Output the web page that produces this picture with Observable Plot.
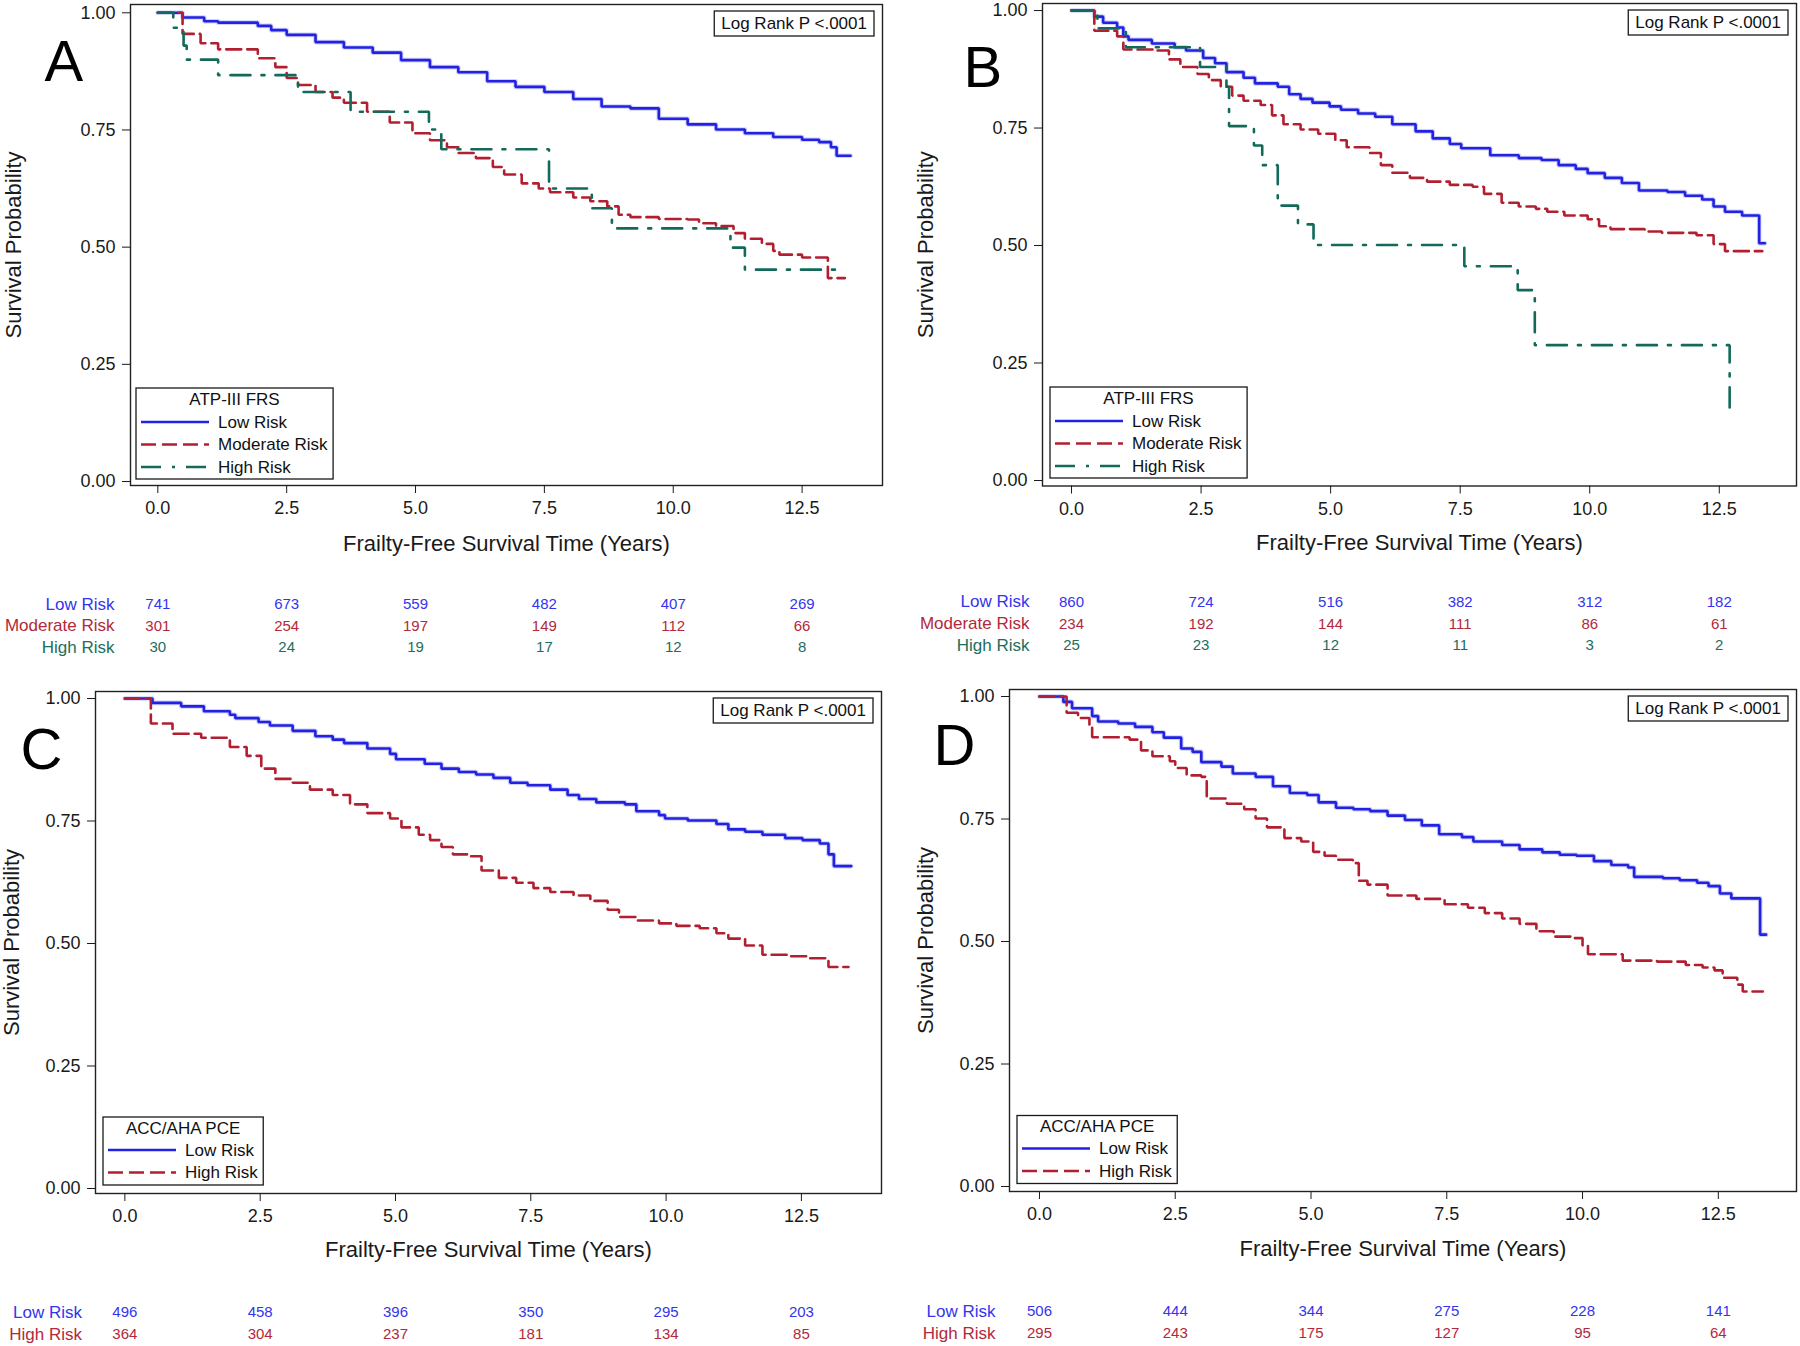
<!DOCTYPE html>
<html><head><meta charset="utf-8">
<script src="https://cdn.jsdelivr.net/npm/d3@7"></script>
<script src="https://cdn.jsdelivr.net/npm/@observablehq/plot@0.6"></script>
<style>
body{margin:0;background:#fff;}
#fig{position:relative;width:1800px;height:1346px;background:#fff;font-family:'Liberation Sans',Arial,sans-serif;}
.panel{position:absolute;}
</style></head><body><div id="fig"></div>
<script>
// ---------- data ----------
const xTicks = [0, 2.5, 5, 7.5, 10, 12.5];
const yTicks = [0, 0.25, 0.5, 0.75, 1];
const xLabel = "Frailty-Free Survival Time (Years)";
const yLabel = "Survival Probability";
const logRankText = "Log Rank P <.0001";
const legendTitleTop = "ATP-III FRS";
const legendTitleBottom = "ACC/AHA PCE";

// Kaplan–Meier steps [time (years), survival]
const A_low = [[0,1],[0.48,0.99],[0.9,0.982],[1.17,0.979],[1.94,0.972],[2.2,0.963],[2.5,0.953],[3.06,0.9375],[3.61,0.926],[4.17,0.915],[4.72,0.899],[5.28,0.884],[5.83,0.873],[6.39,0.854],[6.94,0.842],[7.5,0.831],[8.06,0.816],[8.61,0.80],[9.17,0.796],[9.72,0.774],[10.28,0.762],[10.83,0.751],[11.39,0.743],[11.94,0.735],[12.5,0.729],[12.83,0.724],[13.06,0.713],[13.17,0.695],[13.44,0.695]];
const A_mod = [[0,1],[0.48,0.955],[0.83,0.935],[1.17,0.922],[1.94,0.903],[2.28,0.884],[2.5,0.861],[2.72,0.846],[3.06,0.831],[3.39,0.819],[3.61,0.808],[4.06,0.789],[4.5,0.766],[4.94,0.743],[5.28,0.728],[5.61,0.713],[5.83,0.701],[6.17,0.690],[6.5,0.671],[6.72,0.655],[7.06,0.636],[7.39,0.625],[7.61,0.617],[8.06,0.606],[8.39,0.598],[8.72,0.587],[8.94,0.569],[9.17,0.564],[9.72,0.560],[10.28,0.559],[10.5,0.551],[10.83,0.545],[11.17,0.530],[11.39,0.518],[11.72,0.507],[11.94,0.492],[12.06,0.484],[12.5,0.478],[13.0,0.434],[13.33,0.434]];
const A_high = [[0,1],[0.3,0.968],[0.5,0.93],[0.56,0.90],[1.17,0.867],[2.72,0.831],[3.74,0.789],[5.26,0.751],[5.5,0.709],[7.59,0.625],[8.42,0.583],[8.81,0.540],[11.11,0.499],[11.39,0.452],[13.14,0.452]];

const B_low = [[0,1],[0.44,0.987],[0.61,0.974],[0.88,0.964],[1.0,0.945],[1.1,0.9375],[1.55,0.93],[1.99,0.922],[2.21,0.915],[2.54,0.899],[2.77,0.888],[2.99,0.869],[3.32,0.857],[3.54,0.845],[3.98,0.838],[4.2,0.822],[4.42,0.812],[4.65,0.804],[4.98,0.796],[5.2,0.789],[5.53,0.781],[5.86,0.774],[6.19,0.758],[6.64,0.743],[6.97,0.728],[7.3,0.716],[7.52,0.707],[8.08,0.692],[8.63,0.686],[9.07,0.682],[9.4,0.671],[9.73,0.663],[9.96,0.654],[10.29,0.644],[10.62,0.633],[10.95,0.617],[11.5,0.614],[11.84,0.606],[12.17,0.598],[12.39,0.583],[12.61,0.572],[12.94,0.564],[13.27,0.505],[13.38,0.505]];
const B_mod = [[0,1],[0.44,0.957],[0.88,0.945],[1.0,0.917],[1.66,0.915],[1.88,0.896],[2.1,0.880],[2.43,0.865],[2.65,0.852],[2.88,0.838],[3.1,0.819],[3.32,0.808],[3.65,0.799],[3.87,0.777],[4.09,0.758],[4.42,0.747],[4.76,0.738],[5.09,0.724],[5.31,0.709],[5.75,0.697],[5.97,0.671],[6.19,0.655],[6.53,0.644],[6.86,0.636],[7.3,0.629],[7.74,0.625],[7.96,0.610],[8.3,0.591],[8.63,0.583],[8.96,0.578],[9.18,0.572],[9.51,0.564],[9.96,0.556],[10.18,0.541],[10.4,0.535],[11.06,0.530],[11.39,0.527],[12.06,0.522],[12.39,0.503],[12.61,0.488],[13.33,0.488]];
const B_high = [[0,1],[0.5,0.962],[1.05,0.922],[2.48,0.880],[2.99,0.838],[3.04,0.754],[3.52,0.713],[3.68,0.671],[3.98,0.585],[4.37,0.545],[4.67,0.501],[7.58,0.456],[8.61,0.405],[8.94,0.288],[12.7,0.137]];

const C_low = [[0,1],[0.51,0.991],[1.04,0.984],[1.46,0.974],[1.94,0.967],[2.04,0.960],[2.47,0.952],[2.68,0.945],[3.1,0.934],[3.52,0.923],[3.84,0.916],[4.05,0.909],[4.48,0.898],[4.9,0.887],[5.01,0.876],[5.54,0.867],[5.85,0.857],[6.17,0.850],[6.49,0.845],[6.81,0.838],[7.12,0.828],[7.44,0.823],[7.86,0.814],[8.18,0.803],[8.39,0.795],[8.71,0.788],[9.24,0.784],[9.45,0.770],[9.87,0.762],[9.98,0.755],[10.4,0.751],[10.93,0.744],[11.15,0.733],[11.46,0.728],[11.78,0.722],[12.2,0.715],[12.52,0.711],[12.84,0.704],[13.0,0.682],[13.1,0.658],[13.42,0.658]];
const C_high = [[0,1],[0.48,0.949],[0.88,0.928],[1.41,0.920],[1.94,0.901],[2.25,0.883],[2.52,0.857],[2.78,0.836],[3.1,0.828],[3.42,0.814],[3.84,0.803],[4.16,0.784],[4.48,0.766],[4.9,0.755],[5.11,0.737],[5.43,0.722],[5.64,0.711],[5.85,0.697],[6.06,0.682],[6.38,0.678],[6.59,0.649],[6.91,0.634],[7.23,0.624],[7.55,0.613],[7.86,0.605],[8.29,0.598],[8.6,0.587],[8.92,0.569],[9.13,0.554],[9.45,0.547],[9.87,0.541],[10.19,0.536],[10.62,0.531],[10.93,0.521],[11.15,0.510],[11.46,0.496],[11.78,0.477],[12.31,0.474],[12.63,0.470],[13.0,0.452],[13.37,0.452]];

const D_low = [[0,1],[0.44,0.989],[0.6,0.976],[0.97,0.960],[1.08,0.949],[1.45,0.945],[1.76,0.938],[2.08,0.927],[2.29,0.916],[2.61,0.894],[2.82,0.887],[2.98,0.866],[3.35,0.857],[3.56,0.843],[3.98,0.836],[4.3,0.817],[4.61,0.803],[4.93,0.799],[5.14,0.784],[5.46,0.773],[5.78,0.770],[6.09,0.766],[6.41,0.757],[6.73,0.748],[7.04,0.737],[7.36,0.719],[7.78,0.713],[7.99,0.704],[8.52,0.697],[8.84,0.688],[9.26,0.682],[9.58,0.677],[9.89,0.675],[10.21,0.664],[10.53,0.656],[10.84,0.651],[10.95,0.632],[11.48,0.629],[11.79,0.625],[12.11,0.620],[12.32,0.613],[12.53,0.598],[12.74,0.588],[13.27,0.514],[13.38,0.514]];
const D_high = [[0,1],[0.5,0.967],[0.71,0.956],[0.92,0.942],[0.97,0.917],[1.66,0.912],[1.87,0.890],[2.08,0.878],[2.4,0.868],[2.5,0.854],[2.71,0.839],[2.98,0.836],[3.08,0.792],[3.45,0.781],[3.77,0.770],[3.98,0.751],[4.19,0.733],[4.51,0.711],[4.82,0.704],[5.04,0.683],[5.25,0.675],[5.46,0.667],[5.77,0.660],[5.88,0.624],[6.04,0.616],[6.41,0.594],[6.94,0.587],[7.46,0.576],[7.89,0.569],[8.2,0.558],[8.52,0.547],[8.84,0.536],[9.15,0.521],[9.47,0.510],[9.79,0.507],[10.0,0.492],[10.1,0.474],[10.74,0.461],[11.37,0.459],[11.9,0.452],[12.21,0.447],[12.43,0.441],[12.58,0.426],[12.85,0.412],[12.95,0.398],[13.32,0.398]];

// numbers at risk at 0, 2.5, 5, 7.5, 10, 12.5 years
const nA_low = [741, 673, 559, 482, 407, 269];
const nA_mod = [301, 254, 197, 149, 112, 66];
const nA_high = [30, 24, 19, 17, 12, 8];
const nB_low = [860, 724, 516, 382, 312, 182];
const nB_mod = [234, 192, 144, 111, 86, 61];
const nB_high = [25, 23, 12, 11, 3, 2];
const nC_low = [496, 458, 396, 350, 295, 203];
const nC_high = [364, 304, 237, 181, 134, 85];
const nD_low = [506, 444, 344, 275, 228, 141];
const nD_high = [295, 243, 175, 127, 95, 64];

// ---------- styles ----------
const FONT = "'Liberation Sans', Arial, sans-serif";
const STY = {
  blue: {stroke: "#2222e2", text: "#3434ee", dash: null},
  red: {stroke: "#b21f30", text: "#b3283a", dash: "15,6"},
  teal: {stroke: "#136a5a", text: "#1c6e5e", dash: "20,11,3,11"}
};

function makePanel(cfg) {
  const div = document.createElement("div");
  div.className = "panel";
  div.style.left = cfg.left + "px";
  div.style.top = cfg.top + "px";
  document.getElementById("fig").appendChild(div);

  const marks = [
    Plot.frame({stroke: "#222", strokeWidth: 1.4}),
    Plot.axisX({ticks: xTicks, tickFormat: d => d.toFixed(1), tickSize: 8, tickPadding: 8, fontSize: 18, label: null}),
    Plot.axisY({ticks: yTicks, tickFormat: d => d.toFixed(2), tickSize: 8, tickPadding: 7, fontSize: 18, label: null})
  ];
  cfg.series.forEach(s => {
    const st = STY[s.style];
    if (s.style === "blue") {
      marks.push(Plot.line(s.data, {x: d => d[0], y: d => d[1], curve: "step-after", stroke: "#a9a9f4", strokeWidth: 4.6, strokeOpacity: 0.55}));
    }
    marks.push(Plot.line(s.data, {x: d => d[0], y: d => d[1], curve: "step-after", stroke: st.stroke, strokeWidth: 2.6, strokeDasharray: st.dash, strokeLinejoin: "miter"}));
  });
  marks.push(
    Plot.text([xLabel], {text: d => d, frameAnchor: "bottom", lineAnchor: "middle", textAnchor: "middle", dy: cfg.xLabelDy, fontSize: 22, fill: "#1a1a1a"}),
    Plot.text([yLabel], {text: d => d, frameAnchor: "left", lineAnchor: "middle", textAnchor: "middle", dx: cfg.yLabelDx, rotate: -90, fontSize: 22, fill: "#1a1a1a"}),
    Plot.text([cfg.letter], {text: d => d, frameAnchor: "top-left", lineAnchor: "middle", textAnchor: "start", dx: cfg.letterDx, dy: cfg.letterDy, fontSize: 58, fill: "#000"})
  );
  cfg.series.forEach((s, i) => {
    const st = STY[s.style];
    marks.push(
      Plot.text([s.name], {text: d => d, frameAnchor: "bottom-left", lineAnchor: "middle", textAnchor: "end", dx: cfg.riskLabelDx, dy: cfg.riskDy[i], fontSize: 17, fill: st.text}),
      Plot.text(s.counts.map((n, j) => ({t: xTicks[j], n})), {x: "t", text: d => String(d.n), frameAnchor: "bottom", lineAnchor: "middle", textAnchor: "middle", dy: cfg.riskDy[i], fontSize: 15, fill: st.text})
    );
  });

  const svgEl = Plot.plot({
    width: cfg.width, height: cfg.height,
    marginLeft: cfg.mL, marginRight: cfg.mR, marginTop: cfg.mT, marginBottom: cfg.mB,
    x: {domain: cfg.xDomain, label: null},
    y: {domain: cfg.yDomain, label: null},
    style: {fontFamily: FONT, fontSize: "18px", color: "#1a1a1a", background: "transparent", overflow: "visible"},
    marks
  });
  div.appendChild(svgEl);

  const svg = d3.select(svgEl);
  const fl = cfg.mL, fr = cfg.width - cfg.mR, ft = cfg.mT, fb = cfg.height - cfg.mB;

  // Log-rank box
  const lr = svg.append("g").attr("font-family", FONT).attr("font-size", 17).attr("fill", "#111");
  const lrT = lr.append("text").attr("x", fr - 8 - 7).attr("y", ft + 7 + 12.5).attr("dy", "0.35em").attr("text-anchor", "end").text(logRankText);
  const bb = lrT.node().getBBox();
  lr.insert("rect", "text").attr("x", bb.x - 7).attr("y", ft + 7).attr("width", bb.width + 14).attr("height", 25)
    .attr("fill", "white").attr("stroke", "#1a1a1a").attr("stroke-width", 1.3);

  // Legend box
  const L = cfg.legend;
  const boxL = fl + L.dx, boxB = fb - L.db, boxT = boxB - L.h;
  const lg = svg.append("g").attr("font-family", FONT).attr("font-size", 17).attr("fill", "#111");
  let maxR = 0;
  cfg.series.forEach((s, i) => {
    const st = STY[s.style];
    const y = boxT + L.rows[i];
    lg.append("line").attr("x1", boxL + 5).attr("x2", boxL + 73).attr("y1", y).attr("y2", y)
      .attr("stroke", st.stroke).attr("stroke-width", 2.6).attr("stroke-dasharray", st.dash);
    const t = lg.append("text").attr("x", boxL + 82).attr("y", y).attr("dy", "0.35em").attr("text-anchor", "start").text(s.name);
    const b = t.node().getBBox();
    maxR = Math.max(maxR, b.x + b.width);
  });
  const boxW = maxR - boxL + 5;
  lg.append("text").attr("x", boxL + boxW / 2).attr("y", boxT + L.title).attr("dy", "0.35em").attr("text-anchor", "middle").text(cfg.legendTitle);
  lg.insert("rect", ":first-child").attr("x", boxL).attr("y", boxT).attr("width", boxW).attr("height", L.h)
    .attr("fill", "white").attr("stroke", "#1a1a1a").attr("stroke-width", 1.3);
}

const legend3 = (dx, db) => ({dx, db, h: 91, title: 11, rows: [34, 56.5, 79]});
const legend2 = (dx, db) => ({dx, db, h: 68, title: 11, rows: [33, 55.5]});

makePanel({
  left: 0, top: 0, width: 900, height: 670, mL: 130, mR: 18, mT: 4, mB: 185,
  xDomain: [-0.53, 14.06], yDomain: [-0.0085, 1.0177],
  letter: "A", letterDx: -86, letterDy: 58, xLabelDy: 58, yLabelDx: -117,
  riskDy: [119, 140.5, 162], riskLabelDx: -16,
  legendTitle: legendTitleTop, legend: legend3(6, 6),
  series: [
    {name: "Low Risk", style: "blue", data: A_low, counts: nA_low},
    {name: "Moderate Risk", style: "red", data: A_mod, counts: nA_mod},
    {name: "High Risk", style: "teal", data: A_high, counts: nA_high}
  ]
});
makePanel({
  left: 900, top: 0, width: 900, height: 670, mL: 142, mR: 4, mT: 3, mB: 184.5,
  xDomain: [-0.56, 13.99], yDomain: [-0.0117, 1.015],
  letter: "B", letterDx: -79, letterDy: 65, xLabelDy: 56.5, yLabelDx: -117,
  riskDy: [116, 138, 159.5], riskLabelDx: -13,
  legendTitle: legendTitleTop, legend: legend3(8, 7.5),
  series: [
    {name: "Low Risk", style: "blue", data: B_low, counts: nB_low},
    {name: "Moderate Risk", style: "red", data: B_mod, counts: nB_mod},
    {name: "High Risk", style: "teal", data: B_high, counts: nB_high}
  ]
});
makePanel({
  left: 0, top: 670, width: 900, height: 676, mL: 95, mR: 19, mT: 21, mB: 153,
  xDomain: [-0.543, 13.98], yDomain: [-0.0102, 1.0143],
  letter: "C", letterDx: -75, letterDy: 59, xLabelDy: 56, yLabelDx: -83.5,
  riskDy: [119, 141], riskLabelDx: -13.5,
  legendTitle: legendTitleBottom, legend: legend2(8, 8),
  series: [
    {name: "Low Risk", style: "blue", data: C_low, counts: nC_low},
    {name: "High Risk", style: "red", data: C_high, counts: nC_high}
  ]
});
makePanel({
  left: 900, top: 670, width: 900, height: 676, mL: 109, mR: 4, mT: 19, mB: 155,
  xDomain: [-0.552, 13.94], yDomain: [-0.0102, 1.0143],
  letter: "D", letterDx: -76, letterDy: 57, xLabelDy: 57, yLabelDx: -84,
  riskDy: [120, 142], riskLabelDx: -14,
  legendTitle: legendTitleBottom, legend: legend2(8, 7.5),
  series: [
    {name: "Low Risk", style: "blue", data: D_low, counts: nD_low},
    {name: "High Risk", style: "red", data: D_high, counts: nD_high}
  ]
});
</script></body></html>
